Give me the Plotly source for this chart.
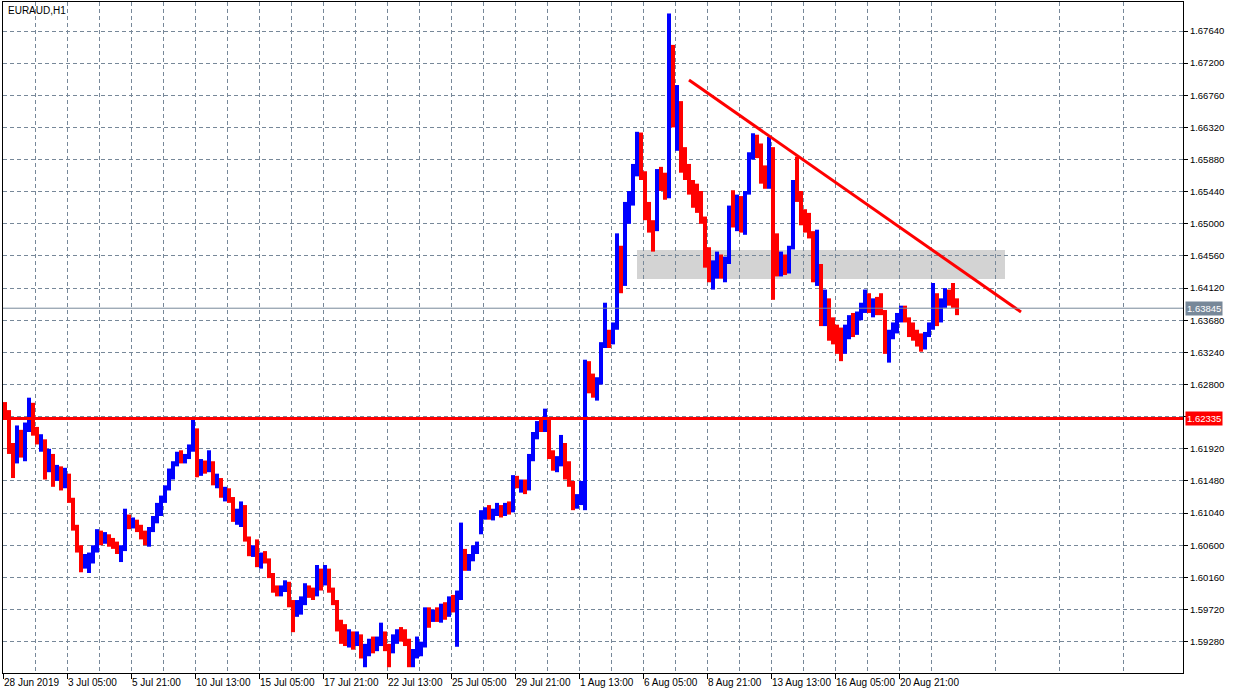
import plotly.graph_objects as go

# EURAUD H1 chart, redrawn with 4-hour bars (x = hours counted from the first bar, weekends removed)
symbol = "EURAUD,H1"
bar_hours = 4
first_open = 1.6245

bar_high = [
    1.6256, 1.6245, 1.6200, 1.6224, 1.6218, 1.6228, 1.6262, 1.6255, 1.6222, 1.6212,
    1.6205, 1.6192, 1.6185, 1.6170, 1.6168, 1.6166, 1.6158, 1.6125, 1.6088, 1.6060,
    1.6048, 1.6050, 1.6060, 1.6082, 1.6080, 1.6078, 1.6075, 1.6070, 1.6065, 1.6060,
    1.6110, 1.6102, 1.6098, 1.6095, 1.6088, 1.6080, 1.6085, 1.6100, 1.6118, 1.6128,
    1.6142, 1.6165, 1.6175, 1.6188, 1.6190, 1.6185, 1.6198, 1.6235, 1.6220, 1.6178,
    1.6176, 1.6190, 1.6175, 1.6158, 1.6152, 1.6140, 1.6138, 1.6126, 1.6110, 1.6120,
    1.6115, 1.6072, 1.6060, 1.6068, 1.6050, 1.6052, 1.6042, 1.6022, 1.6005, 1.6005,
    1.6012, 1.6010, 1.5985, 1.5985, 1.5990, 1.6008, 1.6005, 1.6002, 1.6033, 1.6028,
    1.6033, 1.6028, 1.6002, 1.5985, 1.5958, 1.5952, 1.5945, 1.5942, 1.5942, 1.5938,
    1.5925, 1.5932, 1.5935, 1.5935, 1.5954, 1.5942, 1.5925, 1.5938, 1.5945, 1.5948,
    1.5945, 1.5932, 1.5918, 1.5935, 1.5928, 1.5975, 1.5975, 1.5972, 1.5975, 1.5980,
    1.5982, 1.5990, 1.5992, 1.5998, 1.6091, 1.6055, 1.6048, 1.6060, 1.6065, 1.6108,
    1.6112, 1.6115, 1.6110, 1.6118, 1.6115, 1.6118, 1.6120, 1.6156, 1.6155, 1.6150,
    1.6150, 1.6185, 1.6215, 1.6230, 1.6232, 1.6247, 1.6235, 1.6190, 1.6182, 1.6211,
    1.6200, 1.6175, 1.6148, 1.6130, 1.6148, 1.6314, 1.6312, 1.6295, 1.6290, 1.6338,
    1.6392, 1.6355, 1.6365, 1.6487, 1.6470, 1.6530, 1.6545, 1.6582, 1.6626, 1.6625,
    1.6572, 1.6530, 1.6505, 1.6575, 1.6578, 1.6570, 1.6788, 1.6745, 1.6690, 1.6668,
    1.6605, 1.6582, 1.6560, 1.6555, 1.6545, 1.6510, 1.6468, 1.6450, 1.6462, 1.6458,
    1.6455, 1.6525, 1.6546, 1.6540, 1.6538, 1.6545, 1.6598, 1.6624, 1.6622, 1.6610,
    1.6580, 1.6619, 1.6605, 1.6487, 1.6462, 1.6458, 1.6470, 1.6560, 1.6592, 1.6545,
    1.6520, 1.6515, 1.6490, 1.6492, 1.6445, 1.6410, 1.6398, 1.6372, 1.6362, 1.6358,
    1.6362, 1.6375, 1.6378, 1.6380, 1.6392, 1.6410, 1.6405, 1.6398, 1.6400, 1.6405,
    1.6382, 1.6355, 1.6365, 1.6378, 1.6388, 1.6388, 1.6372, 1.6365, 1.6355, 1.6350,
    1.6352, 1.6365, 1.6419, 1.6405, 1.6398, 1.6412, 1.6410, 1.6419, 1.6398,
]

bar_low = [
    1.6232, 1.6185, 1.6152, 1.6172, 1.6180, 1.6175, 1.6215, 1.6210, 1.6198, 1.6188,
    1.6150, 1.6160, 1.6140, 1.6148, 1.6135, 1.6138, 1.6118, 1.6080, 1.6050, 1.6023,
    1.6028, 1.6022, 1.6035, 1.6050, 1.6060, 1.6062, 1.6058, 1.6055, 1.6048, 1.6037,
    1.6052, 1.6082, 1.6083, 1.6078, 1.6068, 1.6060, 1.6058, 1.6078, 1.6090, 1.6100,
    1.6118, 1.6135, 1.6150, 1.6168, 1.6172, 1.6172, 1.6178, 1.6188, 1.6153, 1.6155,
    1.6158, 1.6160, 1.6142, 1.6138, 1.6125, 1.6120, 1.6118, 1.6092, 1.6088, 1.6085,
    1.6065, 1.6045, 1.6044, 1.6030, 1.6028, 1.6035, 1.6015, 1.5995, 1.5990, 1.5990,
    1.5996, 1.5975, 1.5941, 1.5962, 1.5965, 1.5978, 1.5988, 1.5985, 1.5990, 1.5998,
    1.6005, 1.5995, 1.5978, 1.5942, 1.5925, 1.5922, 1.5920, 1.5917, 1.5922, 1.5905,
    1.5893, 1.5908, 1.5912, 1.5915, 1.5922, 1.5915, 1.5893, 1.5912, 1.5925, 1.5928,
    1.5922, 1.5893, 1.5893, 1.5905, 1.5908, 1.5920, 1.5947, 1.5955, 1.5955, 1.5954,
    1.5958, 1.5962, 1.5968, 1.5921, 1.5985, 1.6025, 1.6025, 1.6038, 1.6048, 1.6075,
    1.6095, 1.6095, 1.6094, 1.6100, 1.6098, 1.6100, 1.6102, 1.6105, 1.6138, 1.6132,
    1.6130, 1.6135, 1.6175, 1.6205, 1.6215, 1.6215, 1.6178, 1.6162, 1.6160, 1.6168,
    1.6150, 1.6140, 1.6108, 1.6110, 1.6115, 1.6108, 1.6268, 1.6262, 1.6258, 1.6280,
    1.6330, 1.6330, 1.6335, 1.6355, 1.6405, 1.6415, 1.6500, 1.6525, 1.6565, 1.6560,
    1.6505, 1.6488, 1.6462, 1.6490, 1.6545, 1.6533, 1.6535, 1.6632, 1.6600, 1.6570,
    1.6560, 1.6540, 1.6522, 1.6515, 1.6500, 1.6440, 1.6420, 1.6410, 1.6425, 1.6425,
    1.6420, 1.6445, 1.6495, 1.6490, 1.6488, 1.6485, 1.6540, 1.6588, 1.6590, 1.6555,
    1.6548, 1.6548, 1.6396, 1.6428, 1.6428, 1.6430, 1.6432, 1.6465, 1.6530, 1.6498,
    1.6488, 1.6480, 1.6420, 1.6415, 1.6360, 1.6360, 1.6340, 1.6335, 1.6322, 1.6312,
    1.6322, 1.6342, 1.6345, 1.6348, 1.6368, 1.6378, 1.6378, 1.6372, 1.6375, 1.6375,
    1.6322, 1.6310, 1.6342, 1.6350, 1.6365, 1.6365, 1.6345, 1.6340, 1.6332, 1.6325,
    1.6328, 1.6345, 1.6355, 1.6360, 1.6365, 1.6385, 1.6388, 1.6385, 1.6375,
]

bar_close = [
    1.6238, 1.6195, 1.6178, 1.6215, 1.6190, 1.6222, 1.6248, 1.6215, 1.6205, 1.6208,
    1.6162, 1.6185, 1.6150, 1.6165, 1.6142, 1.6155, 1.6122, 1.6085, 1.6058, 1.6035,
    1.6042, 1.6045, 1.6055, 1.6075, 1.6068, 1.6072, 1.6062, 1.6058, 1.6052, 1.6055,
    1.6098, 1.6088, 1.6092, 1.6082, 1.6072, 1.6066, 1.6080, 1.6095, 1.6110, 1.6122,
    1.6138, 1.6158, 1.6172, 1.6182, 1.6178, 1.6180, 1.6193, 1.6215, 1.6165, 1.6170,
    1.6162, 1.6172, 1.6148, 1.6150, 1.6130, 1.6135, 1.6122, 1.6098, 1.6105, 1.6112,
    1.6070, 1.6052, 1.6055, 1.6035, 1.6045, 1.6040, 1.6020, 1.6000, 1.5998, 1.6002,
    1.6005, 1.5980, 1.5972, 1.5978, 1.5985, 1.6000, 1.5995, 1.5992, 1.6020, 1.6005,
    1.6025, 1.6000, 1.5982, 1.5948, 1.5945, 1.5930, 1.5938, 1.5925, 1.5935, 1.5912,
    1.5918, 1.5925, 1.5920, 1.5930, 1.5940, 1.5920, 1.5915, 1.5932, 1.5940, 1.5935,
    1.5928, 1.5900, 1.5912, 1.5915, 1.5922, 1.5968, 1.5962, 1.5965, 1.5960, 1.5972,
    1.5965, 1.5985, 1.5975, 1.5990, 1.6045, 1.6035, 1.6042, 1.6055, 1.6060, 1.6100,
    1.6105, 1.6100, 1.6105, 1.6110, 1.6102, 1.6112, 1.6108, 1.6148, 1.6142, 1.6145,
    1.6138, 1.6180, 1.6208, 1.6225, 1.6220, 1.6232, 1.6185, 1.6170, 1.6175, 1.6195,
    1.6158, 1.6145, 1.6120, 1.6125, 1.6135, 1.6300, 1.6280, 1.6275, 1.6285, 1.6330,
    1.6340, 1.6338, 1.6360, 1.6440, 1.6420, 1.6520, 1.6535, 1.6575, 1.6610, 1.6570,
    1.6515, 1.6495, 1.6490, 1.6565, 1.6560, 1.6545, 1.6720, 1.6645, 1.6665, 1.6585,
    1.6575, 1.6550, 1.6545, 1.6530, 1.6510, 1.6455, 1.6430, 1.6440, 1.6450, 1.6435,
    1.6448, 1.6515, 1.6505, 1.6530, 1.6495, 1.6540, 1.6590, 1.6610, 1.6600, 1.6565,
    1.6555, 1.6600, 1.6450, 1.6440, 1.6450, 1.6438, 1.6465, 1.6550, 1.6540, 1.6515,
    1.6505, 1.6490, 1.6430, 1.6440, 1.6375, 1.6395, 1.6350, 1.6345, 1.6340, 1.6335,
    1.6355, 1.6360, 1.6352, 1.6372, 1.6385, 1.6398, 1.6385, 1.6390, 1.6382, 1.6380,
    1.6330, 1.6350, 1.6358, 1.6372, 1.6380, 1.6370, 1.6352, 1.6348, 1.6340, 1.6335,
    1.6348, 1.6360, 1.6395, 1.6372, 1.6392, 1.6405, 1.6395, 1.6390, 1.63845,
]

# time axis labels (hour offsets from the first bar)
label_hours = [0, 64, 128, 192, 256, 320, 384, 448, 512, 576, 640, 704, 768, 832, 896]
time_labels = [
    "28 Jun 2019", "3 Jul 05:00", "5 Jul 21:00", "10 Jul 13:00", "15 Jul 05:00",
    "17 Jul 21:00", "22 Jul 13:00", "25 Jul 05:00", "29 Jul 21:00", "1 Aug 13:00",
    "6 Aug 05:00", "8 Aug 21:00", "13 Aug 13:00", "16 Aug 05:00", "20 Aug 21:00",
]
price_ticks = [
    1.5928, 1.5972, 1.6016, 1.6060, 1.6104, 1.6148, 1.6192, 1.6236, 1.6280, 1.6324,
    1.6368, 1.6412, 1.6456, 1.6500, 1.6544, 1.6588, 1.6632, 1.6676, 1.6720, 1.6764,
]

# drawn objects
level_price = 1.62335
bid_price = 1.63845
zone_hours = [634, 1002]
zone_prices = [1.64245, 1.64642]
trend_hours = [686, 1018]
trend_prices = [1.66969, 1.63793]

GRID = "#778899"
FONT = "Liberation Sans"

bar_open = [first_open] + bar_close[:-1]
bar_x = [bar_hours * k + bar_hours / 2 for k in range(len(bar_close))]
bar_len = [h - l for h, l in zip(bar_high, bar_low)]
bar_col = ["#0000FF" if c >= o else "#FF0000" for o, c in zip(bar_open, bar_close)]

# the level label covers the tick label right under it, as on the terminal
price_text = ["" if abs(p - level_price) < 0.0008 else f"{p:.5f}" for p in price_ticks]

fig = go.Figure()

fig.add_trace(go.Bar(
    x=bar_x, y=bar_len, base=bar_low, width=bar_hours,
    marker=dict(color=bar_col, line=dict(width=0)),
    hoverinfo="skip", showlegend=False
))

fig.add_trace(go.Scatter(
    x=trend_hours, y=trend_prices, mode="lines",
    line=dict(color="#FF0000", width=3), hoverinfo="skip", showlegend=False
))

# support/resistance zone
fig.add_shape(type="rect", x0=zone_hours[0], x1=zone_hours[1],
              y0=zone_prices[0], y1=zone_prices[1],
              fillcolor="rgba(167,167,167,0.5)", line=dict(width=0), layer="below")
# horizontal level and bid line
fig.add_shape(type="line", xref="paper", x0=0, x1=1, y0=level_price, y1=level_price,
              line=dict(color="#FF0000", width=3))
fig.add_shape(type="line", xref="paper", x0=0, x1=1, y0=bid_price, y1=bid_price,
              line=dict(color=GRID, width=1))

for price, bg in [(bid_price, GRID), (level_price, "#FF0000")]:
    fig.add_annotation(
        xref="paper", x=1, y=price, xanchor="left", yanchor="middle",
        xshift=2, text=f"{price:.5f}", showarrow=False,
        bgcolor=bg, borderpad=1, font=dict(family=FONT, size=9.5, color="white")
    )

fig.add_annotation(
    xref="paper", yref="paper", x=0, y=1, xanchor="left", yanchor="top",
    xshift=3, yshift=-1, text=symbol, showarrow=False,
    font=dict(family=FONT, size=10, color="black")
)

grid_style = dict(showgrid=True, gridcolor=GRID, griddash="4px,3px", gridwidth=1)

fig.update_layout(
    width=1236, height=694,
    margin=dict(l=3, r=53, t=2, b=21),
    paper_bgcolor="white", plot_bgcolor="white",
    font=dict(family=FONT, size=9.5, color="black"),
    showlegend=False,
    xaxis=dict(
        range=[0, 1180], tickvals=label_hours, ticktext=time_labels,
        tickangle=0, automargin=False,
        ticks="outside", ticklen=5, tickcolor="black",
        ticklabelposition="outside right",
        showline=True, mirror=True, linecolor="black", linewidth=1,
        zeroline=False, tickfont=dict(family=FONT, size=10, color="black"),
        minor=dict(tick0=32, dtick=64, ticks="", **grid_style),
        **grid_style
    ),
    yaxis=dict(
        side="right", range=[1.58851, 1.68037],
        tickvals=price_ticks, ticktext=price_text, automargin=False,
        ticks="outside", ticklen=4, tickcolor="black",
        showline=True, mirror=True, linecolor="black", linewidth=1,
        zeroline=False, tickfont=dict(family=FONT, size=9.5, color="black"),
        **grid_style
    ),
)

# drop the page's default body margin so the chart sits at the window's corner
fig.write_html("out.html", config={"displayModeBar": False},
               post_script="document.body.style.margin='0';")
